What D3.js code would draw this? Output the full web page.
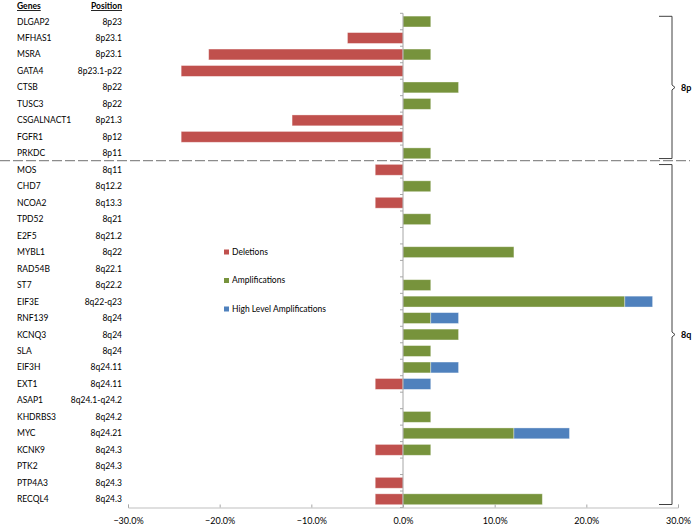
<!DOCTYPE html>
<html><head><meta charset="utf-8">
<script src="https://cdn.jsdelivr.net/npm/d3@7"></script>
<style>body{margin:0;background:#fff}svg{font-family:Lato,"Open Sans",sans-serif}</style>
</head><body><svg id="c" width="694" height="526"></svg>
<script>
const genes = ["DLGAP2","MFHAS1","MSRA","GATA4","CTSB","TUSC3","CSGALNACT1","FGFR1","PRKDC","MOS","CHD7","NCOA2","TPD52","E2F5","MYBL1","RAD54B","ST7","EIF3E","RNF139","KCNQ3","SLA","EIF3H","EXT1","ASAP1","KHDRBS3","MYC","KCNK9","PTK2","PTP4A3","RECQL4"];
const positions = ["8p23","8p23.1","8p23.1","8p23.1-p22","8p22","8p22","8p21.3","8p12","8p11","8q11","8q12.2","8q13.3","8q21","8q21.2","8q22","8q22.1","8q22.2","8q22-q23","8q24","8q24","8q24","8q24.11","8q24.11","8q24.1-q24.2","8q24.2","8q24.21","8q24.3","8q24.3","8q24.3","8q24.3"];
const deletions = [0,-6.06,-21.2,-24.2,0,0,-12.1,-24.2,0,-3.03,0,-3.03,0,0,0,0,0,0,0,0,0,0,-3.03,0,0,0,-3.03,0,-3.03,-3.03];
const amplifications = [3.03,0,3.03,0,6.06,3.03,0,0,3.03,0,3.03,0,3.03,0,12.1,0,3.03,24.2,3.03,6.06,3.03,3.03,0,0,3.03,12.1,3.03,0,0,15.2];
const highLevel = [0,0,0,0,0,0,0,0,0,0,0,0,0,0,0,0,0,3.03,3.03,0,0,3.03,3.03,0,0,6.06,0,0,0,0];
const xTicks = [-30,-20,-10,0,10,20,30];
const seriesNames = ["Deletions","Amplifications","High Level Amplifications"];
const colors = ["#C0504D","#77933C","#4F81BD"];
const arms = [{name:"8p", from:0, to:8},{name:"8q", from:9, to:29}];

const svg = d3.select("#c");
const x = d3.scaleLinear().domain([-30,30]).range([128,678]);
const y = d3.scaleBand().domain(genes).range([13.3,507.5]).paddingInner(0.34).paddingOuter(0.17);
const step = y.step();
const FS = 8.5;

// Bars
const g = svg.append("g");
genes.forEach((gn,i)=>{
  const yy = y(gn), h = y.bandwidth();
  const segs = [];
  if (deletions[i]) segs.push([deletions[i],0,0]);
  if (amplifications[i]) segs.push([0,amplifications[i],1]);
  if (highLevel[i]) segs.push([amplifications[i],amplifications[i]+highLevel[i],2]);
  segs.forEach(s=>{
    g.append("rect").attr("x",x(Math.min(s[0],s[1]))).attr("y",yy)
     .attr("width",Math.abs(x(s[1])-x(s[0]))).attr("height",h)
     .attr("fill",colors[s[2]]).attr("stroke","rgba(255,255,255,0.45)").attr("stroke-width",0.8);
  });
});

// Vertical axis at 0
svg.append("line").attr("x1",x(0)).attr("x2",x(0)).attr("y1",y.range()[0]).attr("y2",y.range()[1])
  .attr("stroke","#a6a6a6").attr("stroke-width",1);
for (let i=0;i<=genes.length;i++){
  const yy = y.range()[0] + i*step;
  svg.append("line").attr("x1",x(0)-3).attr("x2",x(0)).attr("y1",yy).attr("y2",yy).attr("stroke","#a6a6a6");
}

// Bottom axis
const ax = svg.append("g").attr("transform","translate(0,507.5)")
  .call(d3.axisBottom(x).tickValues(xTicks).tickSize(-3).tickFormat(d=>d3.format(".1f")(d)+"%"));
ax.select(".domain").attr("stroke","#bfbfbf");
ax.selectAll(".tick line").attr("stroke","#a6a6a6");
ax.selectAll("text").attr("font-size",9).attr("fill","#000").attr("dy","1.5em").attr("font-family","Lato,'Open Sans',sans-serif");

// Labels
svg.append("text").attr("x",17).attr("y",9).attr("font-size",FS).attr("font-weight","bold").attr("text-decoration","underline").text("Genes");
svg.append("text").attr("x",122).attr("y",9).attr("text-anchor","end").attr("font-size",FS).attr("font-weight","bold").attr("text-decoration","underline").text("Position");
genes.forEach((gn,i)=>{
  const cy = y(gn)+y.bandwidth()/2;
  svg.append("text").attr("x",17).attr("y",cy).attr("dy","0.35em").attr("font-size",FS).text(gn);
  svg.append("text").attr("x",122).attr("y",cy).attr("dy","0.35em").attr("text-anchor","end").attr("font-size",FS).text(positions[i]);
});

// Separator dashed line
const sepY = y.range()[0] + 9*step - 1;
svg.append("line").attr("x1",0).attr("x2",690).attr("y1",sepY).attr("y2",sepY)
  .attr("stroke","#8c8c8c").attr("stroke-width",1.3).attr("stroke-dasharray","10,3");

// Brackets
arms.forEach(a=>{
  const top = y.range()[0] + a.from*step + 3;
  const bot = y.range()[0] + (a.to+1)*step - 3;
  const mid = (top+bot)/2;
  const bx = 672;
  svg.append("path").attr("d",`M${bx-13},${top}H${bx}V${mid-2.5}L${bx+3},${mid}L${bx},${mid+2.5}V${bot}H${bx-13}`)
    .attr("fill","none").attr("stroke","#404040").attr("stroke-width",1);
  svg.append("text").attr("x",681).attr("y",mid).attr("dy","0.35em").attr("font-size",9).attr("font-weight","bold").text(a.name);
});

// Legend
seriesNames.forEach((n,i)=>{
  const ly = 252 + i*28.5;
  svg.append("rect").attr("x",224).attr("y",ly-2.5).attr("width",5).attr("height",5).attr("fill",colors[i]);
  svg.append("text").attr("x",232).attr("y",ly).attr("dy","0.35em").attr("font-size",8.5).text(n);
});
</script></body></html>
